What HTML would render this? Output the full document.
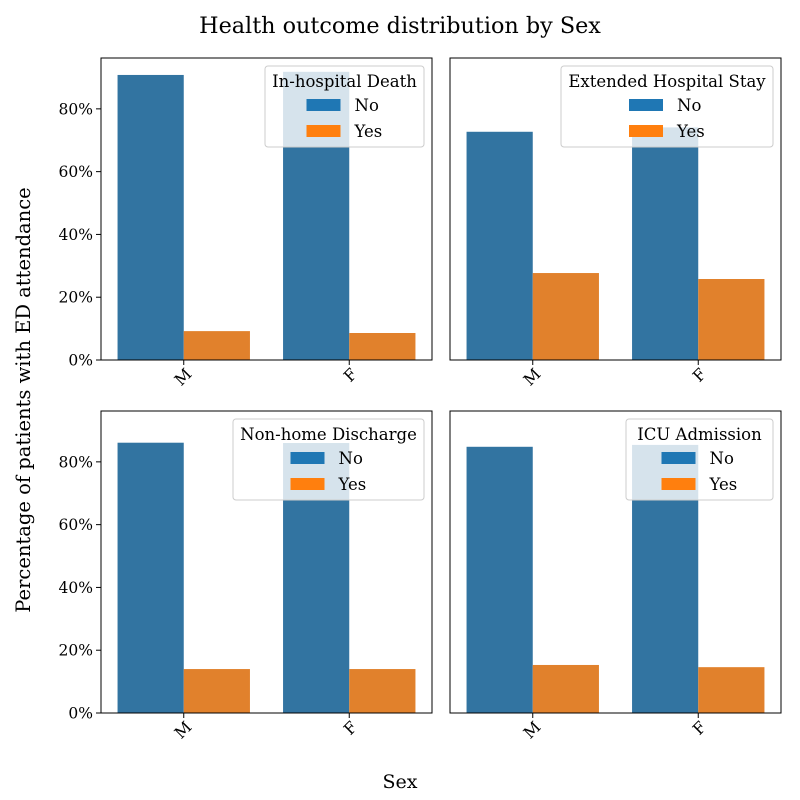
<!DOCTYPE html>
<html><head><meta charset="utf-8"><style>
body{margin:0;background:#fff}
svg{display:block;font-family:"DejaVu Serif","Liberation Serif",serif}
</style></head><body>
<svg id="c" width="800" height="800" viewBox="0 0 800 800">
<text x="400" y="33" text-anchor="middle" font-size="22.3">Health outcome distribution by Sex</text>
<text x="400" y="788" text-anchor="middle" font-size="19">Sex</text>
<text transform="translate(30,400) rotate(-90)" text-anchor="middle" font-size="19.5">Percentage of patients with ED attendance</text>
</svg>
<script>
const categories = ["M","F"];
const titles = ["In-hospital Death","Extended Hospital Stay","Non-home Discharge","ICU Admission"];
const noValues = [[90.8,91.8],[72.7,74.1],[86.1,86.0],[84.8,85.4]];
const yesValues = [[9.2,8.6],[27.7,25.8],[14.0,14.0],[15.3,14.6]];
const yTicks = [0,20,40,60,80];
const yMax = 96.2;
const NS="http://www.w3.org/2000/svg";
const svg=document.getElementById('c');
function mk(t,a,p){const e=document.createElementNS(NS,t);for(const k in a)e.setAttribute(k,a[k]);(p||svg).appendChild(e);return e;}
const panels=[{x:101,y:58},{x:450,y:58},{x:101,y:411},{x:450,y:411}];
const W=331,H=302;
const legW=[159,212,191,147];
panels.forEach((p,i)=>{
  const g=mk('g',{});
  
  
  const ys=v=>p.y+H-v/yMax*H;
  const band=W/categories.length, bw=band*0.4;
  categories.forEach((c,j)=>{
    const cx=p.x+band*(j+0.5);
    const b1=mk('rect',{x:cx-bw,y:ys(noValues[i][j]),width:bw,height:ys(0)-ys(noValues[i][j]),fill:'#3274a1'},g);
    
    
    const b2=mk('rect',{x:cx,y:ys(yesValues[i][j]),width:bw,height:ys(0)-ys(yesValues[i][j]),fill:'#e1812c'},g);
    
    
    mk('line',{x1:cx,x2:cx,y1:p.y+H,y2:p.y+H+5,stroke:'#000'},g);
    const t=mk('text',{transform:`translate(${cx+9},${p.y+H+15}) rotate(-45)`,'text-anchor':'end','font-size':16},g);
    t.textContent=c;
    
    
  });
  if(i%2===0){
    yTicks.forEach(v=>{
      mk('line',{x1:p.x-5,x2:p.x,y1:ys(v),y2:ys(v),stroke:'#000'},g);
      const t=mk('text',{x:p.x-8,y:ys(v)+5.5,'text-anchor':'end','font-size':15.5},g);
      t.textContent=v+'%';
      
      
    });
  }
  mk('rect',{x:p.x,y:p.y,width:W,height:H,fill:'none',stroke:'#000','stroke-width':1},g);
  const lw=legW[i], lx=p.x+W-8-lw, ly=p.y+8;
  const lg=mk('g',{},g);
  
  
  mk('rect',{x:lx,y:ly,width:lw,height:81,rx:3,fill:'#fff','fill-opacity':0.8,stroke:'#ccc'},lg);
  const tt=mk('text',{x:lx+lw/2,y:ly+21,'text-anchor':'middle','font-size':16.5},lg);
  tt.textContent=titles[i];
  const px=lx+lw/2-38;
  [['No','#1f77b4',39],['Yes','#ff7f0e',65]].forEach(([n,col,dy])=>{
    mk('rect',{x:px,y:ly+dy-6,width:34,height:12,fill:col},lg);
    const e=mk('text',{x:px+48,y:ly+dy+6,'font-size':16.5},lg);
    e.textContent=n;
    
    
  });
});
</script>
</body></html>
